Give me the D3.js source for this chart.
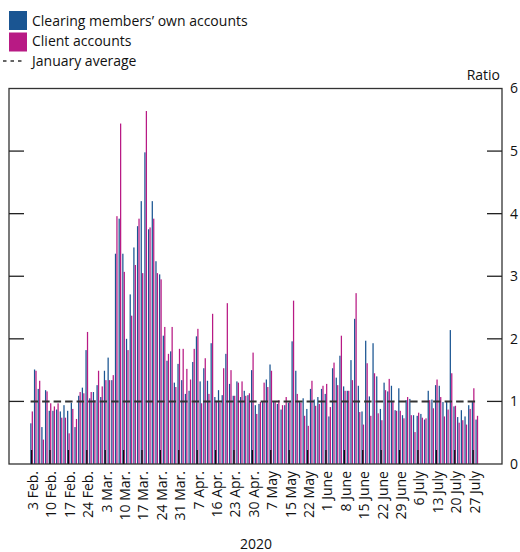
<!DOCTYPE html>
<html>
<head>
<meta charset="utf-8">
<script src="https://cdn.jsdelivr.net/npm/d3@7"></script>
<style>
  body { margin: 0; background: #fff; }
  svg text { font-family: "Open Sans", "Noto Sans", sans-serif; fill: #111; }
</style>
</head>
<body>
<div id="chart"></div>
<script>
// ratio of margin to January average, one value per business day from 3 Feb 2020
const clearingMembers = [
  0.65, 1.51, 1.20, 0.59, 1.18, 0.85, 0.85, 0.87, 0.84, 0.94,
  0.85, 0.98, 0.59, 1.09, 1.22, 1.82, 1.05, 1.15, 1.26, 1.07,
  1.49, 1.70, 1.34, 3.36, 3.92, 3.36, 2.00, 2.71, 3.46, 3.80,
  4.20, 4.98, 3.75, 4.20, 3.24, 3.03, 2.05, 1.65, 1.80, 1.30,
  1.60, 1.34, 1.12, 1.17, 1.63, 2.04, 1.32, 1.53, 1.33, 1.93,
  1.07, 1.18, 1.10, 1.76, 1.28, 1.09, 1.32, 1.07, 1.17, 1.10,
  1.50, 0.94, 0.96, 0.99, 1.35, 1.59, 0.99, 0.96, 0.87, 0.94,
  0.98, 1.96, 1.49, 0.99, 1.05, 0.88, 1.20, 1.03, 1.07, 1.20,
  1.12, 0.76, 1.53, 1.38, 1.73, 1.24, 1.17, 1.66, 2.32, 1.25,
  0.84, 1.97, 1.08, 1.93, 1.40, 0.88, 1.30, 1.16, 1.25, 0.86,
  1.21, 0.78, 1.02, 1.04, 0.78, 0.77, 0.80, 0.71, 1.17, 1.03,
  1.26, 1.25, 0.99, 0.99, 2.14, 0.92, 0.75, 0.86, 0.76, 0.94,
  0.99, 0.71
];
const clientAccounts = [
  0.84, 1.49, 1.33, 0.39, 1.16, 0.97, 0.92, 0.97, 0.74, 0.74,
  0.49, 0.88, 0.72, 1.15, 1.13, 2.11, 1.15, 1.02, 1.49, 1.24,
  1.34, 1.34, 1.42, 3.96, 5.44, 3.07, 1.82, 2.37, 3.18, 3.92,
  3.05, 5.64, 3.78, 3.92, 3.05, 2.95, 2.19, 1.76, 2.19, 1.23,
  1.84, 1.84, 1.52, 1.35, 1.84, 2.16, 0.97, 1.69, 1.12, 2.40,
  1.01, 0.98, 1.53, 2.57, 1.50, 1.09, 1.30, 1.32, 1.09, 1.13,
  1.78, 0.80, 0.99, 1.30, 1.23, 1.49, 0.99, 1.02, 0.94, 1.07,
  0.99, 2.61, 1.12, 0.98, 0.77, 0.61, 1.33, 0.93, 0.96, 1.25,
  1.28, 0.91, 1.62, 1.26, 2.05, 1.17, 1.17, 1.34, 2.73, 0.83,
  0.63, 1.61, 0.77, 1.45, 0.81, 0.70, 1.18, 1.36, 0.99, 0.85,
  0.85, 0.73, 1.07, 0.78, 0.51, 0.82, 0.74, 0.73, 1.02, 0.89,
  1.35, 1.07, 0.76, 0.87, 1.45, 0.93, 0.66, 0.70, 0.63, 0.88,
  1.21, 0.77
];
// a label every fifth business day
const tickLabels = [
  "3 Feb.", "10 Feb.", "17 Feb.", "24 Feb.", "3 Mar.", "10 Mar.", "17 Mar.",
  "24 Mar.", "31 Mar.", "7 Apr.", "16 Apr.", "23 Apr.", "30 Apr.", "7 May",
  "15 May", "22 May", "1 June", "8 June", "15 June", "22 June", "29 June",
  "6 July", "13 July", "20 July", "27 July"
];
const yTicks = [0, 1, 2, 3, 4, 5, 6];
const januaryAverage = 1;

const width = 520, height = 552;
const frame = { left: 9, right: 502, top: 88.5, bottom: 464 };
const blue = "#1a5592", magenta = "#b81a84";
const barW = 1.25;

const days = clearingMembers.map((d, i) => i);

const svg = d3.select("#chart").append("svg")
    .attr("width", width)
    .attr("height", height);

const x = d3.scalePoint()
    .domain(days)
    .range([31.6, 476.8]);

const y = d3.scaleLinear()
    .domain([0, 6])
    .range([frame.bottom, frame.top]);

// bars
svg.append("g")
    .selectAll("rect")
    .data(clearingMembers)
    .join("rect")
    .attr("x", (d, i) => x(i) - barW - 0.1)
    .attr("y", d => y(d))
    .attr("width", barW)
    .attr("height", d => y(0) - y(d))
    .attr("fill", blue);

svg.append("g")
    .selectAll("rect")
    .data(clientAccounts)
    .join("rect")
    .attr("x", (d, i) => x(i) + 0.1)
    .attr("y", d => y(d))
    .attr("width", barW)
    .attr("height", d => y(0) - y(d))
    .attr("fill", magenta);

// january average
svg.append("line")
    .attr("x1", x(0) - 1)
    .attr("x2", x(days.length - 1) + 1)
    .attr("y1", y(januaryAverage))
    .attr("y2", y(januaryAverage))
    .attr("stroke", "#333")
    .attr("stroke-width", 2)
    .attr("stroke-dasharray", "7.5,4");

// frame
svg.append("rect")
    .attr("x", frame.left)
    .attr("y", frame.top)
    .attr("width", frame.right - frame.left)
    .attr("height", frame.bottom - frame.top)
    .attr("fill", "none")
    .attr("stroke", "#333")
    .attr("stroke-width", 1.3);

// right axis labels, ticks drawn inward below
const right = svg.append("g")
    .attr("transform", `translate(${frame.right},0)`)
    .call(d3.axisRight(y).tickValues(yTicks).tickFormat(d3.format("d")).tickSize(0).tickPadding(8));
right.select(".domain").remove();
right.selectAll("text")
    .style("font-size", "14px")
    .attr("font-family", null);

const tickG = svg.append("g");
yTicks.slice(1, -1).forEach(v => {
    tickG.append("line")
        .attr("x1", frame.left).attr("x2", frame.left + 15)
        .attr("y1", y(v)).attr("y2", y(v))
        .attr("stroke", "#222").attr("stroke-width", 1.3);
    tickG.append("line")
        .attr("x1", frame.right - 15).attr("x2", frame.right)
        .attr("y1", y(v)).attr("y2", y(v))
        .attr("stroke", "#222").attr("stroke-width", 1.3);
});

// bottom ticks and labels
const labelDays = tickLabels.map((t, i) => i * 5);
tickG.selectAll(".xtick")
    .data(labelDays)
    .join("line")
    .attr("class", "xtick")
    .attr("x1", d => x(d)).attr("x2", d => x(d))
    .attr("y1", frame.bottom - 14).attr("y2", frame.bottom)
    .attr("stroke", "#111").attr("stroke-width", 1.3);

svg.append("g")
    .selectAll("text")
    .data(tickLabels)
    .join("text")
    .attr("transform", (d, i) => `translate(${x(labelDays[i]) + 1.5},${frame.bottom + 7}) rotate(-90)`)
    .attr("text-anchor", "end")
    .attr("dy", "0.35em")
    .style("font-size", "14px")
    .text(d => d);

svg.append("text")
    .attr("x", 256)
    .attr("y", 549)
    .attr("text-anchor", "middle")
    .style("font-size", "14px")
    .text("2020");

svg.append("text")
    .attr("x", 500)
    .attr("y", 80)
    .attr("text-anchor", "end")
    .style("font-size", "14px")
    .text("Ratio");

// legend
const legend = svg.append("g");
legend.append("rect")
    .attr("x", 9).attr("y", 11).attr("width", 18).attr("height", 19)
    .attr("fill", blue);
legend.append("rect")
    .attr("x", 9).attr("y", 32.5).attr("width", 18).attr("height", 19)
    .attr("fill", magenta);
legend.append("line")
    .attr("x1", 3).attr("x2", 25)
    .attr("y1", 61).attr("y2", 61)
    .attr("stroke", "#333").attr("stroke-width", 1.5)
    .attr("stroke-dasharray", "3.5,4");

const legendItems = ["Clearing members’ own accounts", "Client accounts", "January average"];
legend.selectAll(".leg")
    .data(legendItems)
    .join("text")
    .attr("class", "leg")
    .attr("x", 32)
    .attr("y", (d, i) => 26 + i * 20)
    .style("font-size", "14px")
    .text(d => d);
</script>
</body>
</html>
